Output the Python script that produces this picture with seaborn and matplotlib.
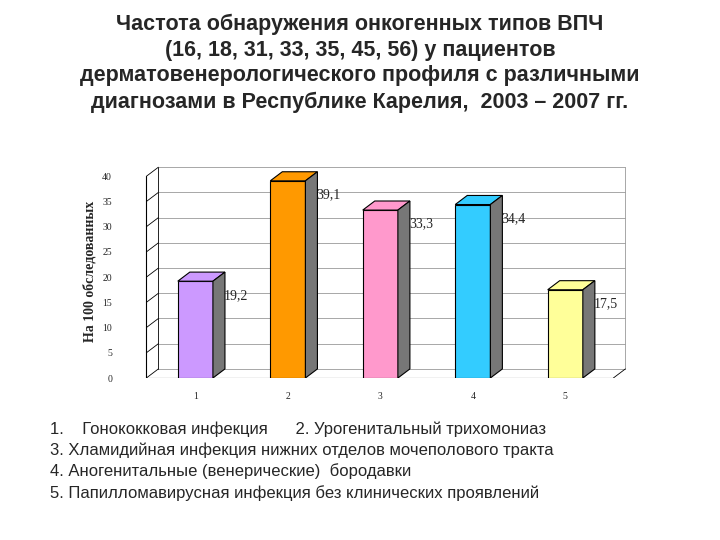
import matplotlib
matplotlib.use("Agg")
import matplotlib.pyplot as plt
import seaborn as sns
import pandas as pd
from matplotlib.patches import Polygon

categories = ["1", "2", "3", "4", "5"]
values = [19.2, 39.1, 33.3, 34.4, 17.5]
labels = ["19,2", "39,1", "33,3", "34,4", "17,5"]
colors = ["#CC99FF", "#FF9900", "#FF99CC", "#33CCFF", "#FFFF99"]
yticks = [0, 5, 10, 15, 20, 25, 30, 35, 40]

sns.set_style("white")
plt.rcParams['font.family'] = ['Liberation Sans', 'DejaVu Sans']

fig = plt.figure(figsize=(7.2, 5.4), dpi=100)
ax = fig.add_axes([0.175, 0.30, 0.70, 0.395])
df = pd.DataFrame({"cat": categories, "val": values})
sns.barplot(data=df, x="cat", y="val", hue="cat", palette=colors, legend=False, saturation=1,
            width=0.38, edgecolor="black", linewidth=0.8, ax=ax, zorder=3)

dx, dy = 0.13, 1.8
xmin, xmax = -0.75, 4.7
ax.set_xlim(xmin, xmax)
ax.set_ylim(0, 40 + dy + 0.5)
bx = xmin + 0.35
for t in yticks:
    ax.plot([bx - dx, bx], [t, t + dy], color="black", lw=0.6, zorder=1)
    ax.plot([bx, xmax - 0.05], [t + dy, t + dy], color="#999999", lw=0.6, zorder=1)
ax.plot([bx - dx, bx - dx], [0, 40], color="black", lw=0.8, zorder=1)
ax.plot([bx, bx], [dy, 40 + dy], color="black", lw=0.6, zorder=1)
ax.plot([xmax - 0.05, xmax - 0.05], [dy, 40 + dy], color="#999999", lw=0.6, zorder=1)
ax.plot([bx - dx, xmax - 0.05 - dx], [0, 0], color="black", lw=0.8, zorder=1)
ax.plot([xmax - 0.05 - dx, xmax - 0.05], [0, dy], color="black", lw=0.6, zorder=1)

for p, c, lab in zip(ax.patches, colors, labels):
    x, w, h = p.get_x(), p.get_width(), p.get_height()
    top = Polygon([(x, h), (x + dx, h + dy), (x + w + dx, h + dy), (x + w, h)],
                  closed=True, facecolor=c, edgecolor="black", lw=0.8, zorder=3)
    side = Polygon([(x + w, 0), (x + w + dx, dy), (x + w + dx, h + dy), (x + w, h)],
                   closed=True, facecolor="#777777", edgecolor="black", lw=0.8, zorder=3)
    ax.add_patch(top); ax.add_patch(side)
    ax.text(x + w + 0.25, h - 1.5, lab, family="Liberation Serif", fontsize=10,
            ha="center", va="top", zorder=4)

for s in ax.spines.values():
    s.set_visible(False)
ax.set_yticks(yticks)
ax.set_yticklabels([str(t) for t in yticks], family="Liberation Serif", fontsize=7)
ax.set_xticks(range(5))
ax.set_xticklabels(categories, family="Liberation Serif", fontsize=7)
ax.tick_params(length=0, pad=10)
ax.set_xlabel("")
ax.set_ylabel("На 100 обследованных", family="Liberation Serif", fontweight="bold", fontsize=10)

fig.text(0.5, 0.975, "Частота обнаружения онкогенных типов ВПЧ\n(16, 18, 31, 33, 35, 45, 56) у пациентов\n"
         "дерматовенерологического профиля с различными\nдиагнозами в Республике Карелия,  2003 – 2007 гг.",
         ha="center", va="top", fontsize=15.5, fontweight="bold", linespacing=1.3)
fig.text(0.07, 0.22, "1.    Гонококковая инфекция      2. Урогенитальный трихомониаз\n"
         "3. Хламидийная инфекция нижних отделов мочеполового тракта\n"
         "4. Аногенитальные (венерические)  бородавки\n"
         "5. Папилломавирусная инфекция без клинических проявлений",
         ha="left", va="top", fontsize=12, linespacing=1.45)
fig.savefig("out.png", dpi=100)
